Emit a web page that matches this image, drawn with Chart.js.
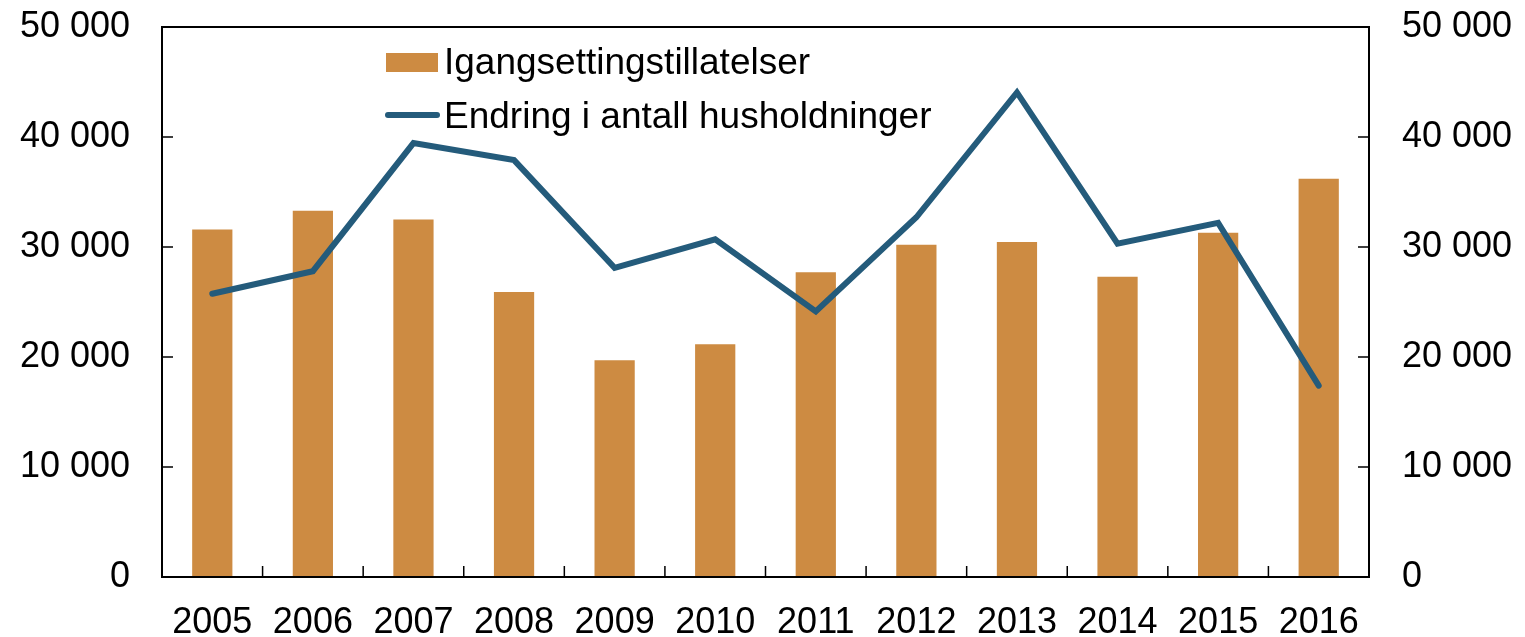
<!DOCTYPE html>
<html>
<head>
<meta charset="utf-8">
<script src="https://cdn.jsdelivr.net/npm/chart.js@4/dist/chart.umd.min.js"></script>
<style>
html,body{margin:0;padding:0;background:#fff;}
#wrap{width:1525px;height:637px;position:relative;}
</style>
</head>
<body>
<div id="wrap"><canvas id="c" width="1525" height="637"></canvas></div>
<script>
const years = ["2005","2006","2007","2008","2009","2010","2011","2012","2013","2014","2015","2016"];
const igangsetting = [31600, 33300, 32500, 25900, 19700, 21150, 27700, 30200, 30450, 27300, 31300, 36200];
const husholdninger = [25750, 27800, 39450, 37900, 28100, 30700, 24150, 32700, 44050, 30300, 32200, 17400];
const yTicks = [0, 10000, 20000, 30000, 40000, 50000];
const barLabel = "Igangsettingstillatelser";
const lineLabel = "Endring i antall husholdninger";

const FONT = "'Liberation Sans', Arial, sans-serif";
const fmt = v => String(v).replace(/\B(?=(\d{3})+(?!\d))/g, " ");

const framePlugin = {
  id: 'frame',
  afterDatasetsDraw(chart) {
    const {ctx, chartArea: a, scales} = chart;
    ctx.save();
    ctx.strokeStyle = '#000';
    ctx.lineWidth = 2;
    ctx.strokeRect(a.left, a.top, a.right - a.left, a.bottom - a.top);
    ctx.lineWidth = 1.5;
    ctx.beginPath();
    const tl = 11;
    yTicks.forEach(v => {
      const y = scales.y.getPixelForValue(v);
      ctx.moveTo(a.left, y); ctx.lineTo(a.left + tl, y);
      const y2 = scales.y2.getPixelForValue(v);
      ctx.moveTo(a.right, y2); ctx.lineTo(a.right - tl, y2);
    });
    const x = scales.x;
    const w = (x.getPixelForValue(1) - x.getPixelForValue(0));
    for (let i = 0; i <= years.length; i++) {
      const px = x.getPixelForValue(0) - w / 2 + i * w;
      ctx.moveTo(px, a.bottom); ctx.lineTo(px, a.bottom - tl);
    }
    ctx.stroke();
    ctx.restore();
  }
};

const legendPlugin = {
  id: 'customLegend',
  afterDraw(chart) {
    const {ctx} = chart;
    const ds = chart.data.datasets;
    const bar = ds.find(d => d.type === 'bar');
    const line = ds.find(d => d.type === 'line');
    ctx.save();
    ctx.font = "37px " + FONT;
    ctx.textBaseline = 'alphabetic';
    ctx.fillStyle = bar.backgroundColor;
    ctx.fillRect(386, 53, 52, 19);
    ctx.fillStyle = '#000';
    ctx.fillText(bar.label, 444, 73.5);
    ctx.strokeStyle = line.borderColor;
    ctx.lineWidth = 6;
    ctx.lineCap = 'round';
    ctx.beginPath();
    ctx.moveTo(388, 115); ctx.lineTo(437, 115);
    ctx.stroke();
    ctx.fillText(line.label, 444, 128);
    ctx.restore();
  }
};

const noPad = s => { s.paddingTop = 0; s.paddingBottom = 0; };

new Chart(document.getElementById('c'), {
  type: 'bar',
  data: {
    labels: years,
    datasets: [
      {
        type: 'line',
        label: lineLabel,
        data: husholdninger,
        yAxisID: 'y2',
        borderColor: '#245B7B',
        borderWidth: 6,
        pointRadius: 0,
        borderCapStyle: 'round',
        borderJoinStyle: 'miter',
        tension: 0,
        order: 0
      },
      {
        type: 'bar',
        label: barLabel,
        data: igangsetting,
        yAxisID: 'y',
        backgroundColor: '#CD8B42',
        barPercentage: 0.4,
        categoryPercentage: 1.0,
        order: 1
      }
    ]
  },
  options: {
    responsive: false,
    animation: false,
    devicePixelRatio: 1,
    layout: {padding: {top: 27, left: 0, right: 0, bottom: 0}},
    plugins: {legend: {display: false}, tooltip: {enabled: false}},
    scales: {
      x: {
        offset: true,
        grid: {display: false},
        border: {display: false},
        ticks: {color: '#000', font: {family: FONT, size: 36}, padding: 16, maxRotation: 0, autoSkip: false},
        afterFit: s => { s.height = 60; s.paddingLeft = 0; s.paddingRight = 0; }
      },
      y: {
        position: 'left',
        min: 0, max: 50000,
        afterBuildTicks: s => { s.ticks = yTicks.map(v => ({value: v})); },
        grid: {display: false},
        border: {display: false},
        ticks: {color: '#000', font: {family: FONT, size: 36}, padding: 24, callback: v => fmt(v)},
        afterFit: s => { s.width = 162; noPad(s); }
      },
      y2: {
        position: 'right',
        min: 0, max: 50000,
        afterBuildTicks: s => { s.ticks = yTicks.map(v => ({value: v})); },
        grid: {display: false},
        border: {display: false},
        ticks: {color: '#000', font: {family: FONT, size: 36}, padding: 25, callback: v => fmt(v)},
        afterFit: s => { s.width = 156; noPad(s); }
      }
    }
  },
  plugins: [framePlugin, legendPlugin]
});
</script>
</body>
</html>
